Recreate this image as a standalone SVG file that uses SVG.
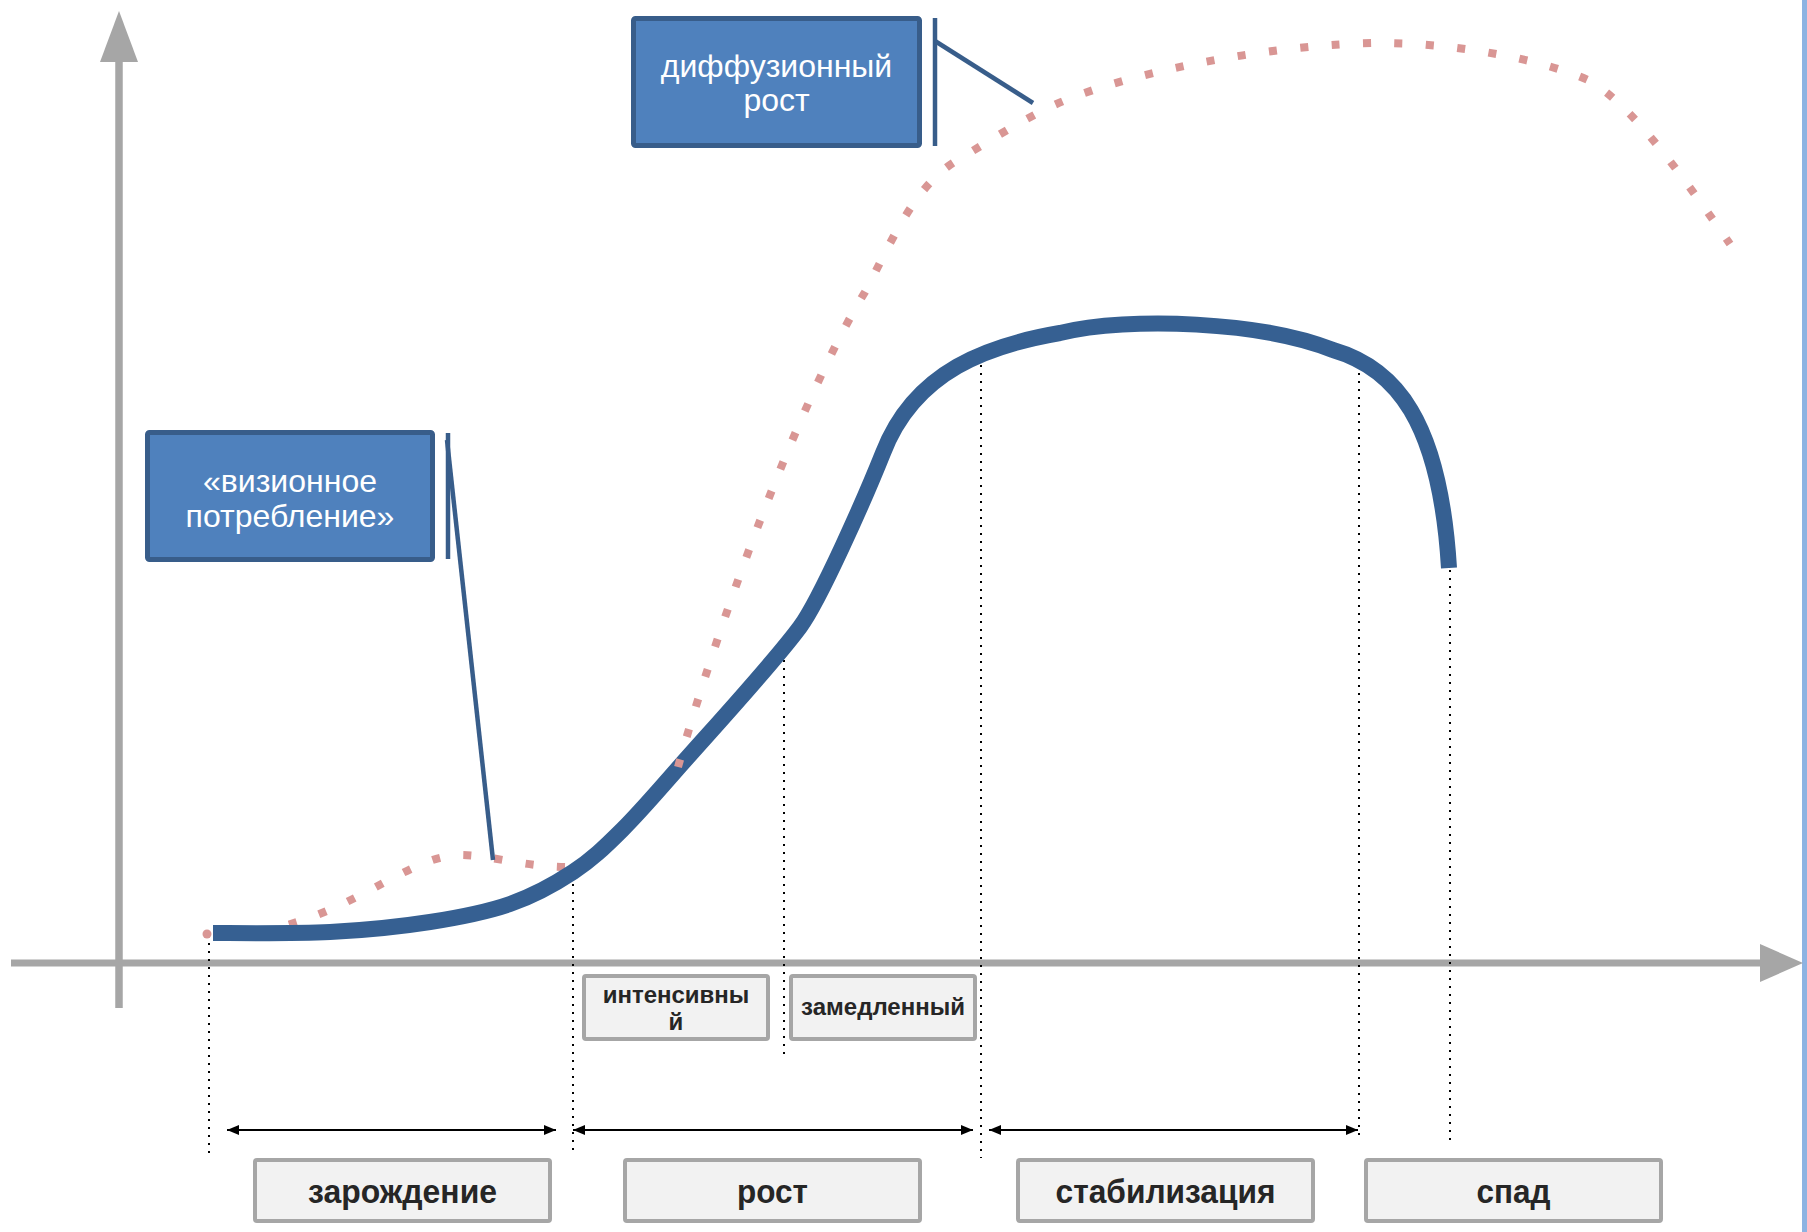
<svg xmlns="http://www.w3.org/2000/svg" width="1807" height="1232" viewBox="0 0 1807 1232">
<style>
.axis{stroke:#a6a6a6;fill:none}
.axhead{fill:#a6a6a6}
.vdot{stroke:#000;stroke-width:2;stroke-dasharray:2 6;fill:none}
.dim{stroke:#000;stroke-width:2;fill:none;marker-start:url(#ah);marker-end:url(#ah)}
.callout{stroke:#385d8a;stroke-width:4.5;fill:none}
.bbox{fill:#4f81bd;stroke:#385d8a;stroke-width:5}
.btxt{font-family:"Liberation Sans",Arial,sans-serif;font-size:32px;fill:#fff;text-anchor:middle}
.gbox{fill:#f2f2f2;stroke:#a6a6a6;stroke-width:4}
.gtxt{font-family:"Liberation Sans",Arial,sans-serif;font-weight:bold;fill:#262626;text-anchor:middle}
.big{font-size:34px}
.pink{fill:none;stroke:#d99694;stroke-width:8;stroke-dasharray:8 23.5}
</style>
<defs>
<marker id="ah" viewBox="0 0 12 10" refX="12" refY="5" markerWidth="12" markerHeight="10" markerUnits="userSpaceOnUse" orient="auto-start-reverse">
<path d="M0,0 L12,5 L0,10 Z" fill="#000"/>
</marker>
</defs>
<rect x="0" y="0" width="1807" height="1232" fill="#fff"/>
<rect x="1802" y="0" width="5" height="1232" fill="#8db3e2"/>
<g id="axes">
<line class="axis" x1="119" y1="1008" x2="119" y2="58" stroke-width="7.5"/>
<polygon class="axhead" points="119,11 100,62 138,62"/>
<line class="axis" x1="11" y1="963" x2="1764" y2="963" stroke-width="7"/>
<polygon class="axhead" points="1803,963 1760,944 1760,982"/>
</g>
<g id="connectors">
<line class="vdot" x1="209" y1="935" x2="209" y2="1156"/>
<line class="vdot" x1="573" y1="876" x2="573" y2="1152"/>
<line class="vdot" x1="784" y1="660" x2="784" y2="1054"/>
<line class="vdot" x1="981" y1="365" x2="981" y2="1158"/>
<line class="vdot" x1="1359" y1="365" x2="1359" y2="1141"/>
<line class="vdot" x1="1450" y1="570" x2="1450" y2="1141"/>
<line class="dim" x1="227" y1="1130" x2="556" y2="1130"/>
<line class="dim" x1="573" y1="1130" x2="973" y2="1130"/>
<line class="dim" x1="989" y1="1130" x2="1358" y2="1130"/>
</g>
<g id="curve-diffusion-start">
<circle cx="207" cy="934" r="4.5" fill="#d99694"/>
<path class="pink" d="M565,867 C520,866 490,855 460,855 C400,855 330,940 207,934"/>
</g>
<g id="curve-main">
<path d="M213,933 C232.5,933 293.8,933.8 330,932 C366.2,930.2 400,926.7 430,922 C460,917.3 486.2,912.3 510,904 C533.8,895.7 554.3,884.3 573,872 C591.7,859.7 604.2,847.7 622,830 C639.8,812.3 650.3,799.8 680,766 C709.7,732.2 771.2,665.8 800,627 C820,600 865,498 883,453 C915,370 990,345 1060,333 C1130,316 1263,322 1333,350 C1395,368 1440,420 1449,568" fill="none" stroke="#366092" stroke-width="16"/>
</g>
<g id="curve-diffusion">
<path class="pink" d="M678,767 C725,600 805,390 865,292 C889,247 913,187 956,161 C986,143 1012,126 1042,111 C1110,75 1273,43 1383,43 C1450,43 1540,58 1590,81 C1635,107 1690,187 1730,244"/>
</g>
<g id="callout-lines">
<line class="callout" x1="935" y1="18" x2="935" y2="146"/>
<line class="callout" x1="935" y1="41" x2="1033" y2="103"/>
<line class="callout" x1="448" y1="433" x2="448" y2="559"/>
<line class="callout" x1="447" y1="440" x2="493" y2="860"/>
</g>
<g id="node-diffusion">
<rect class="bbox" x="633.5" y="18.5" width="286" height="127" rx="2"/>
<text class="btxt" x="776.5" y="77">диффузионный</text>
<text class="btxt" x="776.5" y="111">рост</text>
</g>
<g id="node-vision">
<rect class="bbox" x="147.5" y="432.5" width="285" height="127" rx="2"/>
<text class="btxt" x="290" y="492">«визионное</text>
<text class="btxt" x="290" y="527">потребление»</text>
</g>
<g id="node-intensive">
<rect class="gbox" x="584" y="976" width="184" height="63" rx="2"/>
<text class="gtxt" x="676" y="1003" font-size="24">интенсивны</text>
<text class="gtxt" x="676" y="1030" font-size="24">й</text>
</g>
<g id="node-slow">
<rect class="gbox" x="791" y="976" width="184" height="63" rx="2"/>
<text class="gtxt" x="883" y="1015" font-size="24">замедленный</text>
</g>
<g id="node-birth">
<rect class="gbox" x="255" y="1160" width="295" height="61" rx="2"/>
<text class="gtxt big" x="402.5" y="1203" textLength="189" lengthAdjust="spacingAndGlyphs">зарождение</text>
</g>
<g id="node-growth">
<rect class="gbox" x="625" y="1160" width="295" height="61" rx="2"/>
<text class="gtxt big" x="772.5" y="1203" textLength="71" lengthAdjust="spacingAndGlyphs">рост</text>
</g>
<g id="node-stable">
<rect class="gbox" x="1018" y="1160" width="295" height="61" rx="2"/>
<text class="gtxt big" x="1165.5" y="1203" textLength="220" lengthAdjust="spacingAndGlyphs">стабилизация</text>
</g>
<g id="node-decline">
<rect class="gbox" x="1366" y="1160" width="295" height="61" rx="2"/>
<text class="gtxt big" x="1513.5" y="1203" textLength="74" lengthAdjust="spacingAndGlyphs">спад</text>
</g>
</svg>
